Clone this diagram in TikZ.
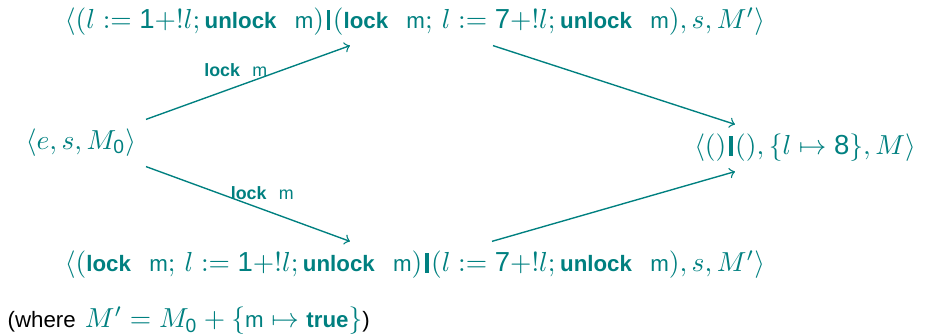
\documentclass[tikz,border=0pt]{standalone}
\usepackage{amsmath}
\usepackage{fontspec}
\setsansfont[Scale=0.81]{Liberation Sans}
\newfontfamily\digitfont{Liberation Sans}
\newcommand\kwd[1]{\textsf{\bfseries #1}}
\newcommand\mloc{\textsf{m}}
\newcommand\nmb[1]{\text{\digitfont #1}}
\newcommand\pbar{\mathord{\kern0.9pt\rule[-0.4pt]{1.4pt}{7.2pt}\kern0.9pt}}
\begin{document}
\begin{tikzpicture}[x=0.3636pt,y=-0.3636pt,>=to,line width=0.5pt,teal]
  \useasboundingbox (0,0) rectangle (925,336);
  % 状態
  \node (start) at (81,143) {$\langle e, s, M_{\nmb{0}}\rangle$};
  \node (top) at (415,22) {$\langle(l := \nmb{1}{+}!l;\kwd{unlock}~~\mloc)\pbar(\kwd{lock}~~\mloc;\, l := \nmb{7}{+}!l;\kwd{unlock}~~\mloc), s, M'\rangle$};
  \node (bot) at (415,265) {$\langle(\kwd{lock}~~\mloc;\, l := \nmb{1}{+}!l;\kwd{unlock}~~\mloc)\pbar(l := \nmb{7}{+}!l;\kwd{unlock}~~\mloc), s, M'\rangle$};
  \node (final) at (805,148) {$\langle()\pbar(), \{l \mapsto \nmb{8}\}, M\rangle$};
  \node [anchor=west, inner sep=0pt, black] (note) at (7,321) {\textsf{(where} $\color{teal}M' = M_{\nmb{0}} + \{\mloc \mapsto \kwd{true}\}$\textsf{)}};
  % 遷移
  \draw[->] (start.north east) -- node[above, pos=0.44, font=\footnotesize] {\kwd{lock}\hspace{4.5pt}\mloc} ([shift={(-65,0)}]top.south);
  \draw[->] (start.south east) -- node[above, pos=0.57, font=\footnotesize] {\kwd{lock}\hspace{4.5pt}\mloc} ([shift={(-65,0)}]bot.north);
  \draw[->] ([shift={(78,0)}]top.south) -- ([shift={(-70,0)}]final.north);
  \draw[->] ([shift={(77,0)}]bot.north) -- ([shift={(-70,0)}]final.south);
\end{tikzpicture}
\end{document}
